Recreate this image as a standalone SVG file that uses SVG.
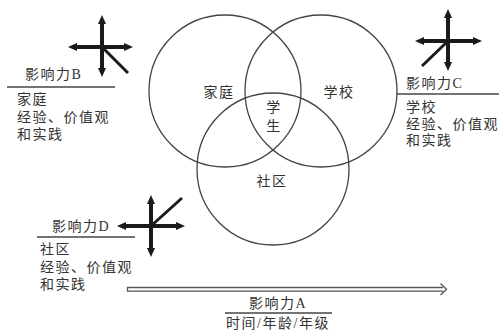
<svg xmlns="http://www.w3.org/2000/svg" width="499" height="331" viewBox="0 0 499 331">
<defs>
<style>
.t{font-family:"Liberation Serif","Noto Sans CJK SC",serif;font-size:14px;fill:#333;letter-spacing:1.5px;}
.c{font-family:"Noto Sans CJK SC",sans-serif;font-size:14px;fill:#333;text-anchor:middle;letter-spacing:1.5px;}
.circ{fill:none;stroke:#444;stroke-width:1.3;}
.rule{stroke:#444;stroke-width:1.5;}
.ax{stroke:#1a1a1a;stroke-width:4;fill:none;marker-start:url(#ah);marker-end:url(#ah);}
.dg{stroke:#1a1a1a;stroke-width:3;fill:none;}
.dbl{stroke:#555;stroke-width:1.3;fill:none;}
</style>
<marker id="ah" markerUnits="userSpaceOnUse" markerWidth="9" markerHeight="9" viewBox="0 0 9 9" refX="2" refY="4.5" orient="auto-start-reverse">
<path d="M0,0.5 L9,4.5 L0,8.5 z" fill="#1a1a1a"/>
</marker>
</defs>
<rect width="499" height="331" fill="#fff"/>
<g id="circle-family">
<circle class="circ" cx="225" cy="91" r="76"/>
<text class="c" x="219" y="97">家庭</text>
</g>
<g id="circle-school">
<circle class="circ" cx="321" cy="91" r="76"/>
<text class="c" x="339" y="97">学校</text>
</g>
<g id="circle-community">
<circle class="circ" cx="273" cy="169" r="76"/>
<text class="c" x="272" y="186">社区</text>
</g>
<g id="student">
<text class="c" x="274" y="112">学</text>
<text class="c" x="274" y="131">生</text>
</g>
<g id="connectors">
<line class="ax" x1="102" y1="22" x2="102" y2="70"/>
<line class="ax" x1="75" y1="47" x2="126" y2="47"/>
<line class="dg" x1="102" y1="47" x2="128" y2="73"/>
<line class="ax" x1="448" y1="16" x2="448" y2="64"/>
<line class="ax" x1="422" y1="41" x2="475" y2="41"/>
<line class="dg" x1="448" y1="41" x2="422" y2="66"/>
<line class="ax" x1="151" y1="202" x2="151" y2="250"/>
<line class="ax" x1="124" y1="226" x2="178" y2="226"/>
<line class="dg" x1="151" y1="226" x2="182" y2="198"/>
<path class="dbl" d="M443,287.5 H127.5 V291.2 H443"/>
<path class="dbl" d="M440.5,283.5 L446.5,289.3 L440.5,295"/>
</g>
<g id="influence-B">
<text class="t" x="25" y="79">影响力B</text>
<line class="rule" x1="7" y1="87" x2="115" y2="87"/>
<text class="t" x="17" y="104">家庭</text>
<text class="t" x="17" y="122">经验、价值观</text>
<text class="t" x="17" y="139">和实践</text>
</g>
<g id="influence-C">
<text class="t" x="406" y="88">影响力C</text>
<line class="rule" x1="397" y1="94" x2="499" y2="94"/>
<text class="t" x="406" y="112">学校</text>
<text class="t" x="406" y="129">经验、价值观</text>
<text class="t" x="406" y="145">和实践</text>
</g>
<g id="influence-D">
<text class="t" x="52" y="231">影响力D</text>
<line class="rule" x1="37" y1="237" x2="135" y2="237"/>
<text class="t" x="40" y="254">社区</text>
<text class="t" x="40" y="272">经验、价值观</text>
<text class="t" x="40" y="289">和实践</text>
</g>
<g id="influence-A">
<text class="t" x="278" y="308" text-anchor="middle">影响力A</text>
<line class="rule" x1="225" y1="313" x2="332" y2="313"/>
<text class="t" x="278" y="328" text-anchor="middle">时间/年龄/年级</text>
</g>
</svg>
